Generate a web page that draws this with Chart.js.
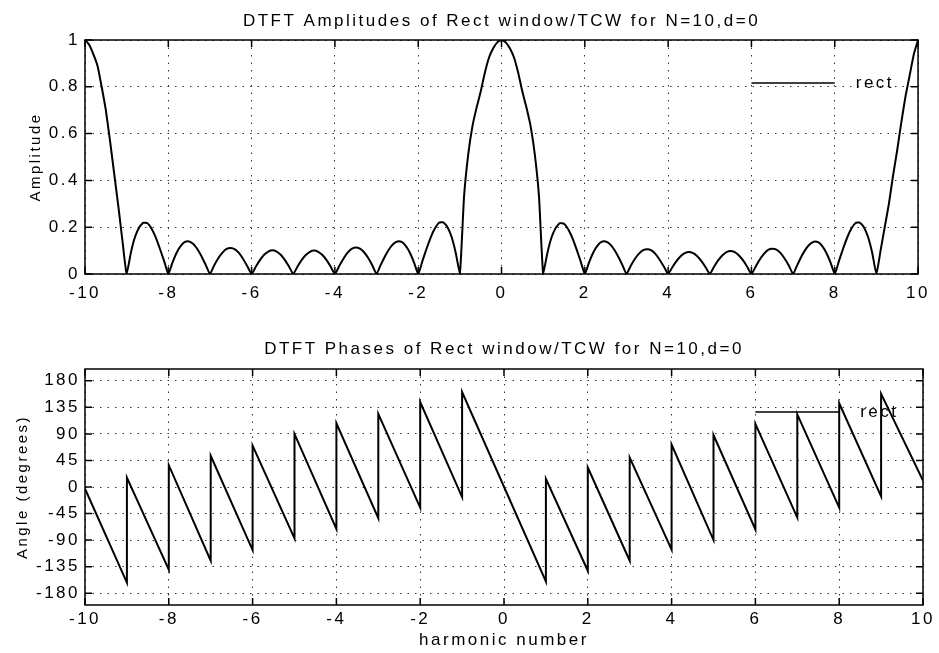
<!DOCTYPE html>
<html>
<head>
<meta charset="utf-8">
<script src="https://cdn.jsdelivr.net/npm/chart.js@4.4.1/dist/chart.umd.min.js"></script>
<style>
  html, body { margin: 0; padding: 0; background: #fff; }
  #wrap { position: relative; width: 939px; height: 653px; }
  canvas { position: absolute; left: 0; }
</style>
</head>
<body>
<div id="wrap">
  <canvas id="ampChart" width="939" height="310" style="top:0"></canvas>
  <canvas id="phaseChart" width="939" height="343" style="top:310px"></canvas>
</div>
<script>
// amplitude sampled every 0.1 harmonic, one row per unit interval (-10 .. 10)
const amplitude = [
  1, .98, .94, .89, .80, .70, .57, .43, .29, .14,
  0, .090, .158, .199, .219, .217, .193, .155, .107, .055,
  0, .049, .091, .120, .137, .139, .128, .106, .075, .038,
  0, .036, .067, .091, .107, .111, .105, .089, .063, .032,
  0, .031, .059, .082, .096, .101, .096, .082, .059, .031,
  0, .031, .059, .081, .095, .100, .095, .081, .059, .031,
  0, .033, .064, .090, .107, .113, .108, .093, .068, .036,
  0, .039, .075, .106, .128, .139, .137, .120, .091, .049,
  0, .055, .108, .157, .194, .219, .221, .201, .159, .091,
  0, .33, .51, .63, .71, .78, .86, .925, .965, .99,
  1, .99, .965, .925, .86, .78, .71, .63, .51, .33,
  0, .089, .156, .197, .217, .215, .191, .154, .106, .054,
  0, .049, .091, .120, .137, .139, .128, .106, .075, .039,
  0, .034, .064, .087, .102, .106, .101, .085, .060, .031,
  0, .029, .055, .076, .089, .094, .089, .076, .055, .029,
  0, .030, .058, .079, .093, .098, .093, .079, .058, .030,
  0, .031, .062, .086, .103, .108, .104, .089, .065, .035,
  0, .038, .075, .105, .127, .138, .136, .119, .090, .049,
  0, .055, .108, .156, .194, .218, .220, .200, .158, .090,
  0, .10, .20, .30, .42, .53, .65, .76, .85, .94,
  1
];
const harmonic = amplitude.map((_, i) => -10 + i / 10);

// phase: the sawtooth corners (each jump is two points at the same harmonic)
const phaseX = [-10, -9, -9, -8, -8, -7, -7, -6, -6, -5, -5, -4, -4, -3, -3, -2, -2, -1, -1,
                 1, 1, 2, 2, 3, 3, 4, 4, 5, 5, 6, 6, 7, 7, 8, 8, 9, 9, 10];
const phaseDeg = [-3, -162, 16, -140, 37, -125, 53, -107, 70, -87, 90, -71, 108, -53, 124, -35, 144, -17, 161,
                  -160, 14, -142, 33, -125, 50, -106, 72, -90, 88, -72, 107, -52, 123, -35, 142, -16, 158, 11];

const harmonicTicks = [-10, -8, -6, -4, -2, 0, 2, 4, 6, 8, 10];
const ampTicks = [0, 0.2, 0.4, 0.6, 0.8, 1];
const angleTicks = [-180, -135, -90, -45, 0, 45, 90, 135, 180];

const FONT = "'Liberation Sans', Arial, Helvetica, sans-serif";
Chart.defaults.font.family = FONT;
Chart.defaults.font.size = 17;
Chart.defaults.color = '#000';

// matlab look: box, inward ticks, little legend, wide lettering
const matlabBox = {
  id: 'matlabBox',
  beforeUpdate(chart) { chart.ctx.letterSpacing = '2.5px'; },
  beforeDraw(chart) { chart.ctx.letterSpacing = '2.5px'; },
  afterDatasetsDraw(chart) {
    const { ctx, chartArea: a, scales: { x, y } } = chart;
    ctx.save();
    ctx.strokeStyle = '#000';
    ctx.lineWidth = 1.5;
    ctx.strokeRect(a.left, a.top, a.width, a.height);
    ctx.beginPath();
    x.ticks.forEach(t => {
      const px = x.getPixelForValue(t.value);
      ctx.moveTo(px, a.bottom); ctx.lineTo(px, a.bottom - 7);
      ctx.moveTo(px, a.top); ctx.lineTo(px, a.top + 7);
    });
    y.ticks.forEach(t => {
      const py = y.getPixelForValue(t.value);
      ctx.moveTo(a.left, py); ctx.lineTo(a.left + 7, py);
      ctx.moveTo(a.right, py); ctx.lineTo(a.right - 7, py);
    });
    ctx.stroke();

    const ly = a.top + 43;
    ctx.lineWidth = 1.6;
    ctx.beginPath();
    ctx.moveTo(x.getPixelForValue(6), ly);
    ctx.lineTo(x.getPixelForValue(8), ly);
    ctx.stroke();
    ctx.font = '17px ' + FONT;
    ctx.fillStyle = '#000';
    ctx.textBaseline = 'middle';
    ctx.textAlign = 'left';
    ctx.fillText(chart.data.datasets[0].label, x.getPixelForValue(8) + 21, ly);
    ctx.restore();
  }
};

function xAxis(height, padding, title) {
  return {
    type: 'linear', min: -10, max: 10,
    afterBuildTicks: s => { s.ticks = harmonicTicks.map(v => ({ value: v })); },
    afterFit: s => { s.height = height; },
    grid: { color: '#333', lineWidth: 1, drawTicks: false },
    border: { display: false, dash: [1.5, 6] },
    ticks: { padding: padding, maxRotation: 0, autoSkip: false, callback: v => String(v) },
    title: title
  };
}

function yAxis(min, max, ticks, text, titlePad) {
  return {
    min: min, max: max,
    afterBuildTicks: s => { s.ticks = ticks.map(v => ({ value: v })); },
    afterFit: s => { s.width = 85; },
    grid: { color: '#333', lineWidth: 1, drawTicks: false },
    border: { display: false, dash: [1.5, 6] },
    ticks: { padding: 5, autoSkip: false, callback: v => String(v) },
    title: { display: true, text: text, font: { size: 15 }, padding: { top: titlePad, bottom: 0 } }
  };
}

function titleOpts(text, top, bottom) {
  return {
    display: true, text: text, fullSize: false, color: '#000',
    font: { size: 17, weight: 'normal' },
    padding: { top: top, bottom: bottom }
  };
}

new Chart(document.getElementById('ampChart'), {
  type: 'line',
  data: {
    datasets: [{
      label: 'rect',
      data: harmonic.map((h, i) => ({ x: h, y: amplitude[i] })),
      borderColor: '#000', borderWidth: 2, pointRadius: 0, tension: 0.15, fill: false
    }]
  },
  options: {
    responsive: false, animation: false, events: [],
    layout: { padding: { left: 0, right: 16, top: 0, bottom: 0 } },
    plugins: {
      legend: { display: false },
      tooltip: { enabled: false },
      title: titleOpts('DTFT Amplitudes of Rect window/TCW for N=10,d=0', 10.8, 8.8)
    },
    scales: {
      x: xAxis(36, 9, { display: false }),
      y: yAxis(0, 1, ampTicks, 'Amplitude', 27)
    }
  },
  plugins: [matlabBox]
});

new Chart(document.getElementById('phaseChart'), {
  type: 'line',
  data: {
    datasets: [{
      label: 'rect',
      data: phaseX.map((h, i) => ({ x: h, y: phaseDeg[i] })),
      borderColor: '#000', borderWidth: 2, pointRadius: 0, tension: 0, fill: false
    }]
  },
  options: {
    responsive: false, animation: false, events: [],
    layout: { padding: { left: 0, right: 16, top: 0, bottom: 0 } },
    plugins: {
      legend: { display: false },
      tooltip: { enabled: false },
      title: titleOpts('DTFT Phases of Rect window/TCW for N=10,d=0', 28.8, 9.8)
    },
    scales: {
      x: xAxis(48, 4, { display: true, text: 'harmonic number', padding: { top: 0, bottom: 2.8 } }),
      y: yAxis(-200, 200, angleTicks, 'Angle (degrees)', 13.5)
    }
  },
  plugins: [matlabBox]
});
</script>
</body>
</html>
